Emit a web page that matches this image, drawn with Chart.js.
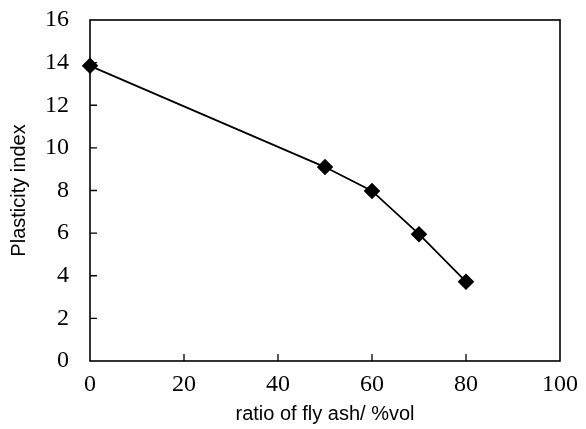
<!DOCTYPE html>
<html>
<head>
<meta charset="utf-8">
<script src="https://cdn.jsdelivr.net/npm/chart.js@4"></script>
<style>
  html, body { margin: 0; padding: 0; background: #fff; }
  #wrap { width: 586px; height: 429px; }
</style>
</head>
<body>
<div id="wrap"><canvas id="chart" width="586" height="429"></canvas></div>
<script>
// data
const flyAsh = [0, 50, 60, 70, 80];
const plasticity = [13.85, 9.1, 7.98, 5.95, 3.72];
const xTitle = 'ratio of fly ash/ %vol';
const yTitle = 'Plasticity index';

// frame + inward tick marks
const frame = {
  id: 'frame',
  afterDraw(chart) {
    const { ctx, chartArea: a, scales } = chart;
    ctx.save();
    ctx.strokeStyle = '#000';
    ctx.lineWidth = 1.6;
    ctx.strokeRect(a.left, a.top, a.right - a.left, a.bottom - a.top);
    ctx.lineWidth = 1.3;
    ctx.beginPath();
    scales.x.ticks.forEach(t => {
      if (t.value <= 0 || t.value >= 100) return;
      const px = scales.x.getPixelForValue(t.value);
      ctx.moveTo(px, a.bottom);
      ctx.lineTo(px, a.bottom - 7);
    });
    scales.y.ticks.forEach(t => {
      if (t.value <= 0 || t.value >= 16) return;
      const py = scales.y.getPixelForValue(t.value);
      ctx.moveTo(a.left, py);
      ctx.lineTo(a.left + 7, py);
    });
    ctx.stroke();
    ctx.restore();
  }
};

const data = flyAsh.map((x, i) => ({ x: x, y: plasticity[i] }));

new Chart(document.getElementById('chart'), {
  type: 'line',
  data: {
    datasets: [{
      data: data,
      borderColor: '#000',
      backgroundColor: '#000',
      borderWidth: 1.8,
      pointStyle: 'rectRot',
      pointRadius: 7,
      pointHoverRadius: 7,
      tension: 0,
      clip: false
    }]
  },
  options: {
    responsive: false,
    animation: false,
    layout: { padding: { left: 0, right: 26, top: 20, bottom: 0 } },
    plugins: { legend: { display: false }, tooltip: { enabled: false } },
    scales: {
      x: {
        type: 'linear',
        min: 0, max: 100,
        ticks: { stepSize: 20, color: '#000', padding: 1, maxRotation: 0,
                 font: { family: 'Liberation Serif', size: 24 } },
        grid: { display: false },
        border: { display: false },
        title: { display: true, text: xTitle, color: '#000',
                 font: { family: 'Liberation Sans', size: 20 },
                 padding: { top: 0, bottom: 3 } },
        afterFit(s) { s.height = 68; s.paddingLeft = 0; s.paddingRight = 0; }
      },
      y: {
        min: 0, max: 16,
        ticks: { stepSize: 2, color: '#000', padding: 13,
                 font: { family: 'Liberation Serif', size: 24 } },
        grid: { display: false },
        border: { display: false },
        title: { display: true, text: yTitle, color: '#000',
                 font: { family: 'Liberation Sans', size: 20 },
                 padding: { top: 7, bottom: 0 } },
        afterFit(s) { s.width = 90; s.paddingTop = 0; s.paddingBottom = 0; }
      }
    }
  },
  plugins: [frame]
});
</script>
</body>
</html>
